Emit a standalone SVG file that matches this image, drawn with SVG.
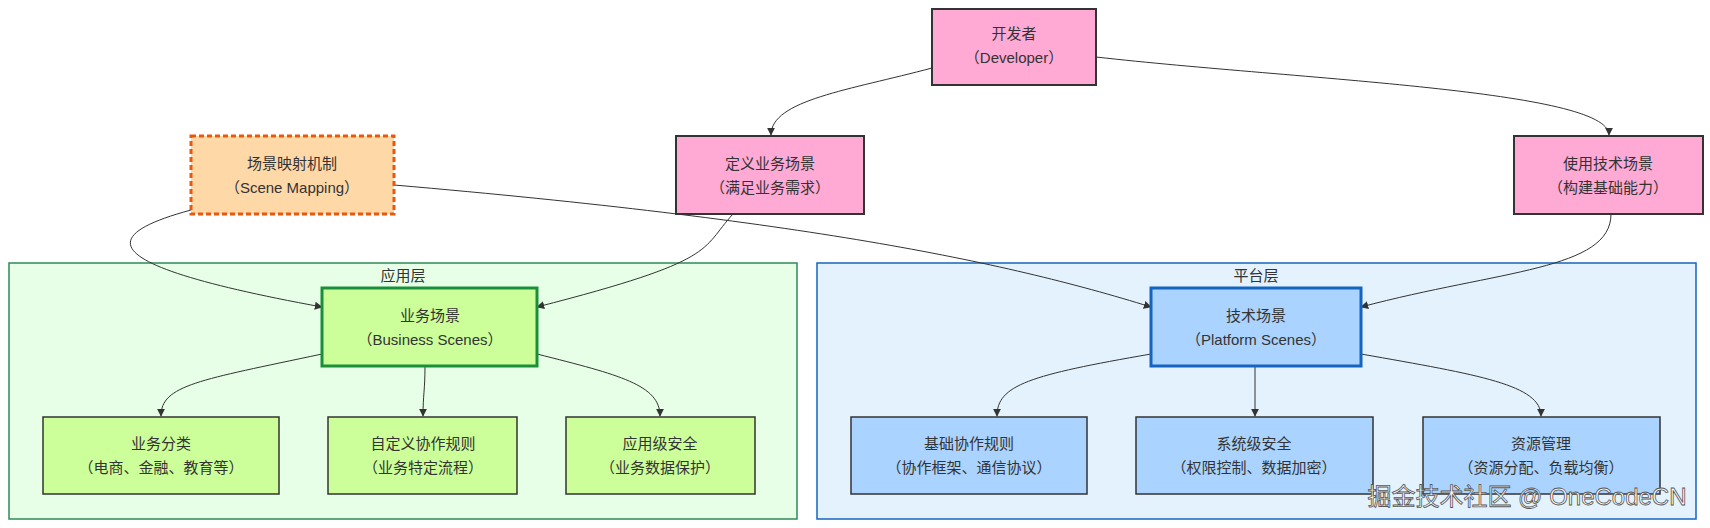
<svg xmlns="http://www.w3.org/2000/svg" width="1710" height="528" viewBox="0 0 1710 528">
<style>
text{font-family:"Liberation Sans","Noto Sans CJK SC",sans-serif;font-size:15px;fill:#333;text-anchor:middle}
.pink{fill:#ffaad4;stroke:#333;stroke-width:2}
.green{fill:#ccff99;stroke:#333;stroke-width:1.5}
.blue{fill:#aad4ff;stroke:#333;stroke-width:1.5}
.e{fill:none;stroke:#333;stroke-width:1}
</style>
<defs><marker id="a" viewBox="0 0 10 10" refX="9" refY="5" markerWidth="8" markerHeight="8" orient="auto"><path d="M0,0L10,5L0,10z" fill="#333"/></marker></defs>
<g id="cluster-app"><rect x="9" y="263" width="788" height="256" fill="#e6ffe6" stroke="#2e8b57" stroke-width="1.5"/><text x="403" y="281">应用层</text></g>
<g id="cluster-platform"><rect x="817" y="263" width="879" height="256" fill="#e3f2fd" stroke="#1565c0" stroke-width="1.5"/><text x="1256" y="281">平台层</text></g>
<g id="edges">
<path class="e" marker-end="url(#a)" d="M932,68C850,90 771,100 771,135"/>
<path class="e" marker-end="url(#a)" d="M1096,57C1300,80 1609,90 1609,135"/>
<path class="e" marker-end="url(#a)" d="M191,210C80,240 120,270 322,307"/>
<path class="e" marker-end="url(#a)" d="M733,214C700,250 720,260 537,307"/>
<path class="e" marker-end="url(#a)" d="M394,185C800,220 1000,260 1151,307"/>
<path class="e" marker-end="url(#a)" d="M1611,214C1611,270 1500,270 1361,307"/>
<path class="e" marker-end="url(#a)" d="M322,354C200,380 161,385 161,416"/>
<path class="e" marker-end="url(#a)" d="M425,366C425,390 423,395 423,416"/>
<path class="e" marker-end="url(#a)" d="M537,354C620,375 660,385 660,416"/>
<path class="e" marker-end="url(#a)" d="M1151,354C1030,375 997,385 997,416"/>
<path class="e" marker-end="url(#a)" stroke-width="0.7" d="M1255,366L1255,416"/>
<path class="e" marker-end="url(#a)" d="M1361,354C1480,375 1541,385 1541,416"/>
</g>
<g id="dev"><rect class="pink" x="932" y="9" width="164" height="76"/><text x="1014" y="39">开发者</text><text x="1014" y="63">（Developer）</text></g>
<g id="mapping"><rect x="191" y="136" width="203" height="78" fill="#ffd8a8" stroke="#e8590c" stroke-width="3" stroke-dasharray="5 3"/><text x="292" y="169">场景映射机制</text><text x="292" y="193">（Scene Mapping）</text></g>
<g id="define"><rect class="pink" x="676" y="136" width="188" height="78"/><text x="770" y="169">定义业务场景</text><text x="770" y="193">（满足业务需求）</text></g>
<g id="use"><rect class="pink" x="1514" y="136" width="189" height="78"/><text x="1608" y="169">使用技术场景</text><text x="1608" y="193">（构建基础能力）</text></g>
<g id="biz"><rect x="322" y="288" width="215" height="78" fill="#ccff99" stroke="#1a8f3a" stroke-width="3"/><text x="430" y="321">业务场景</text><text x="430" y="345">（Business Scenes）</text></g>
<g id="plat"><rect x="1151" y="288" width="210" height="78" fill="#aad4ff" stroke="#1565c0" stroke-width="3"/><text x="1256" y="321">技术场景</text><text x="1256" y="345">（Platform Scenes）</text></g>
<g id="b1"><rect class="green" x="43" y="417" width="236" height="77"/><text x="161" y="449">业务分类</text><text x="161" y="473">（电商、金融、教育等）</text></g>
<g id="b2"><rect class="green" x="328" y="417" width="189" height="77"/><text x="423" y="449">自定义协作规则</text><text x="423" y="473">（业务特定流程）</text></g>
<g id="b3"><rect class="green" x="566" y="417" width="189" height="77"/><text x="660" y="449">应用级安全</text><text x="660" y="473">（业务数据保护）</text></g>
<g id="p1"><rect class="blue" x="851" y="417" width="236" height="77"/><text x="969" y="449">基础协作规则</text><text x="969" y="473">（协作框架、通信协议）</text></g>
<g id="p2"><rect class="blue" x="1136" y="417" width="237" height="77"/><text x="1254" y="449">系统级安全</text><text x="1254" y="473">（权限控制、数据加密）</text></g>
<g id="p3"><rect class="blue" x="1423" y="417" width="237" height="77"/><text x="1541" y="449">资源管理</text><text x="1541" y="473">（资源分配、负载均衡）</text></g>
<text x="1527" y="505" style="font-size:24px;fill:#fff;stroke:#555;stroke-width:0.8">掘金技术社区 @ OneCodeCN</text>
</svg>
